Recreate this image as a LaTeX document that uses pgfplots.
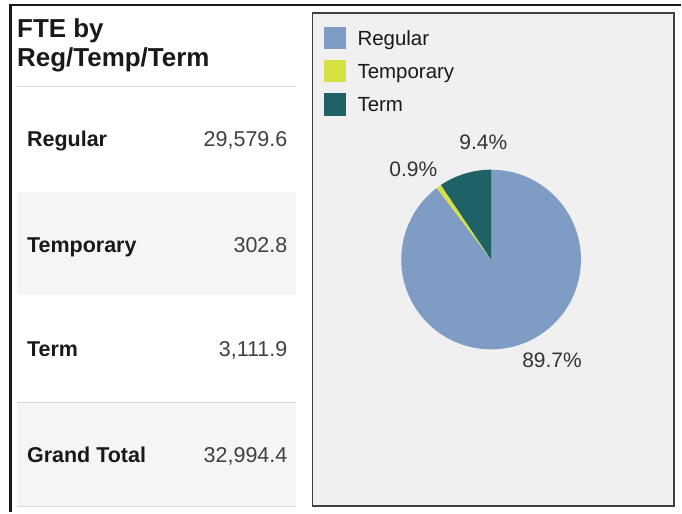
\documentclass[border=0pt]{standalone}
\usepackage{fontspec}
\setmainfont{Liberation Sans}
\usepackage{pgfplots}
\usepackage{pgfplotstable}
\pgfplotsset{compat=1.18}

\definecolor{regc}{RGB}{127,157,196}
\definecolor{tempc}{RGB}{214,224,66}
\definecolor{termc}{RGB}{30,98,102}
\definecolor{panel}{RGB}{240,240,240}
\definecolor{rowbg}{RGB}{245,245,245}
\definecolor{sep}{RGB}{218,218,218}
\definecolor{txt}{RGB}{25,25,25}

% FTE by category
\pgfplotstableread{
label     value
Regular   29579.6
Temporary 302.8
Term      3111.9
}\ftetable

\pgfplotstablegetelem{0}{value}\of\ftetable \edef\vReg{\pgfplotsretval}
\pgfplotstablegetelem{1}{value}\of\ftetable \edef\vTemp{\pgfplotsretval}
\pgfplotstablegetelem{2}{value}\of\ftetable \edef\vTerm{\pgfplotsretval}
\edef\vTot{\fpeval{\vReg+\vTemp+\vTerm}}
% slice boundaries, clockwise from 12 o'clock
\edef\aA{\fpeval{90-360*\vReg/\vTot}}
\edef\aB{\fpeval{\aA-360*\vTemp/\vTot}}

\newcommand\rowfont{\fontsize{21.5bp}{25bp}\selectfont}
\newcommand\ttlfont{\fontsize{26bp}{29bp}\selectfont\bfseries}

\begin{document}
\begin{tikzpicture}
\begin{axis}[
    at={(0,0)}, anchor=south west,
    width=682bp, height=513bp, scale only axis,
    xmin=0, xmax=682, ymin=0, ymax=513,
    hide axis, clip=false,
]
% background and frame
\fill[white] (axis cs:0,0) rectangle (axis cs:682,513);
\draw[black!90, line width=2.5bp] (axis cs:10.5,0) -- (axis cs:10.5,508) -- (axis cs:682,508);

% table panel
\fill[rowbg] (axis cs:17,217) rectangle (axis cs:297,321);
\fill[rowbg] (axis cs:17,6) rectangle (axis cs:297,110);
\draw[sep, line width=1bp] (axis cs:17,426) -- (axis cs:297,426);
\draw[sep, line width=1bp] (axis cs:17,110) -- (axis cs:297,110);
\draw[sep, line width=1bp] (axis cs:17,6) -- (axis cs:297,6);

\node[anchor=base west, inner sep=0, text=txt, font=\ttlfont] at (axis cs:17,475) {FTE by};
\node[anchor=base west, inner sep=0, text=txt, font=\ttlfont] at (axis cs:17,446) {Reg/Temp/Term};

\node[anchor=base west, inner sep=0, text=txt, font=\rowfont\bfseries] at (axis cs:27,366) {Regular};
\node[anchor=base west, inner sep=0, text=txt, font=\rowfont\bfseries] at (axis cs:27,260) {Temporary};
\node[anchor=base west, inner sep=0, text=txt, font=\rowfont\bfseries] at (axis cs:27,156) {Term};
\node[anchor=base west, inner sep=0, text=txt, font=\rowfont\bfseries] at (axis cs:27,50) {Grand Total};

\node[anchor=base east, inner sep=0, text=black!75, font=\rowfont] at (axis cs:288,366) {29,579.6};
\node[anchor=base east, inner sep=0, text=black!75, font=\rowfont] at (axis cs:288,260) {302.8};
\node[anchor=base east, inner sep=0, text=black!75, font=\rowfont] at (axis cs:288,156) {3,111.9};
\node[anchor=base east, inner sep=0, text=black!75, font=\rowfont] at (axis cs:288,50) {32,994.4};

% chart panel
\filldraw[fill=panel, draw=black!75, line width=1.8bp] (axis cs:313,6) rectangle (axis cs:675,500);

% legend
\fill[regc]  (axis cs:325,464) rectangle (axis cs:347,486);
\fill[tempc] (axis cs:325,431) rectangle (axis cs:347,453);
\fill[termc] (axis cs:325,397) rectangle (axis cs:347,420);
\node[anchor=base west, inner sep=0, text=txt, font=\fontsize{20.5bp}{24bp}\selectfont] at (axis cs:358,467) {Regular};
\node[anchor=base west, inner sep=0, text=txt, font=\fontsize{20.5bp}{24bp}\selectfont] at (axis cs:358,434) {Temporary};
\node[anchor=base west, inner sep=0, text=txt, font=\fontsize{20.5bp}{24bp}\selectfont] at (axis cs:358,401) {Term};

% pie
\fill[regc]  (axis cs:492,253) -- ++(90:90bp) arc[start angle=90, end angle=\aA, radius=90bp] -- cycle;
\fill[tempc] (axis cs:492,253) -- ++(\aA:90bp) arc[start angle=\aA, end angle=\aB, radius=90bp] -- cycle;
\fill[termc] (axis cs:492,253) -- ++(\aB:90bp) arc[start angle=\aB, end angle=-270, radius=90bp] -- cycle;

\node[anchor=base west, inner sep=0, text=black!80, font=\fontsize{21bp}{24bp}\selectfont] at (axis cs:460,363) {9.4\%};
\node[anchor=base west, inner sep=0, text=black!80, font=\fontsize{21bp}{24bp}\selectfont] at (axis cs:390,336) {0.9\%};
\node[anchor=base west, inner sep=0, text=black!80, font=\fontsize{21bp}{24bp}\selectfont] at (axis cs:523,145) {89.7\%};
\end{axis}
\end{tikzpicture}
\end{document}
